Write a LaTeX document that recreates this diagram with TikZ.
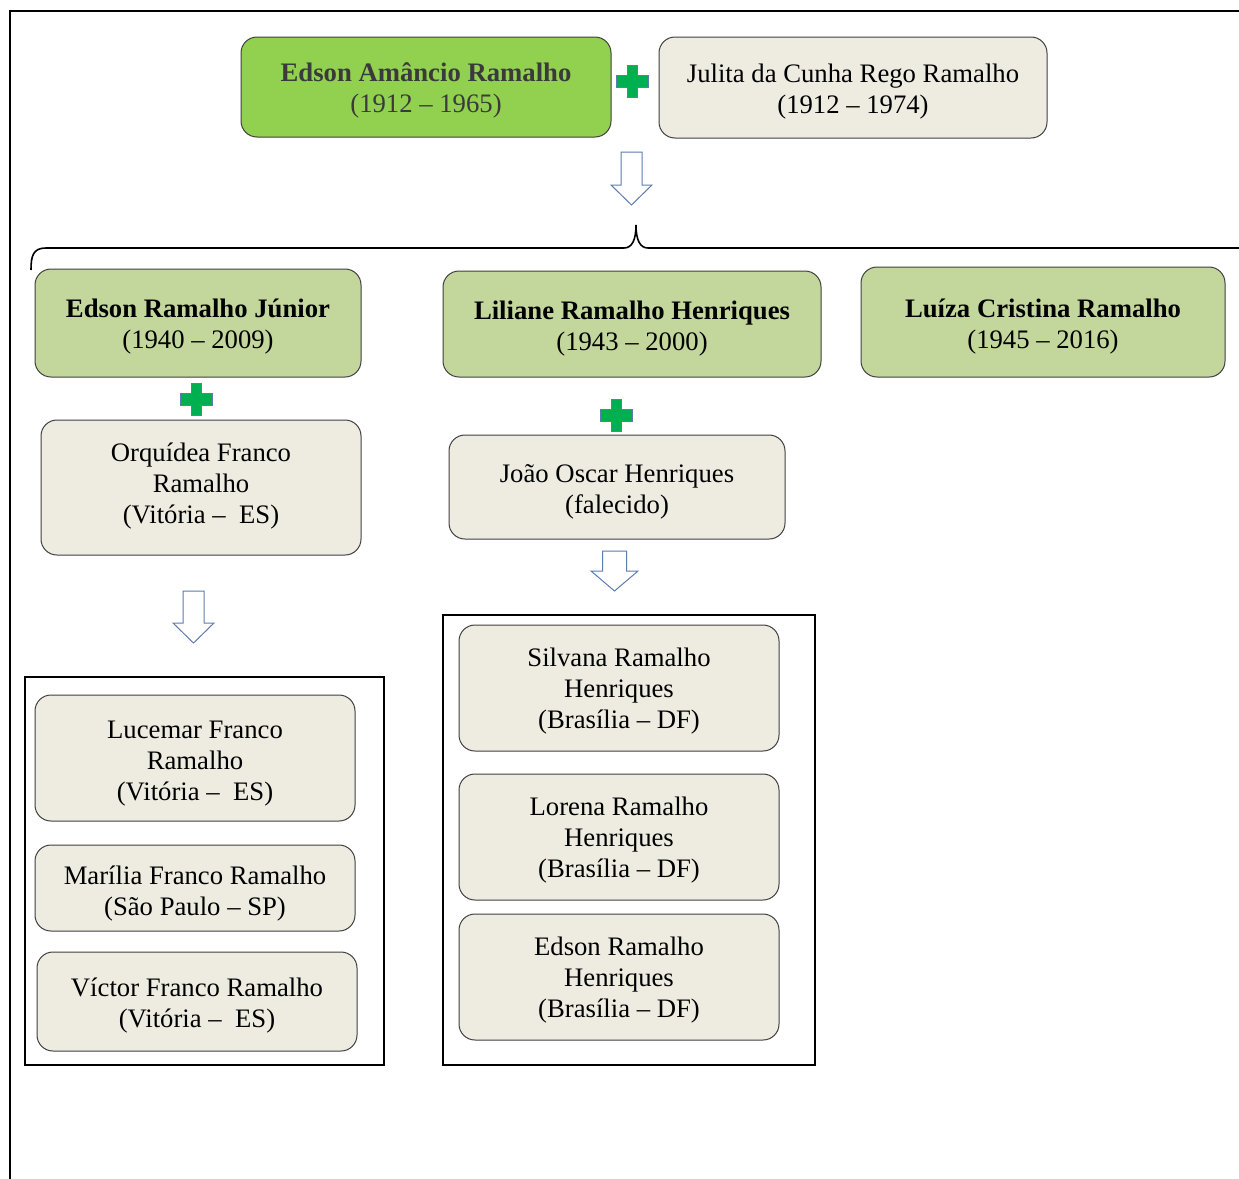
\documentclass[tikz,border=0pt]{standalone}
\usepackage{fontspec}
\setmainfont{Liberation Serif}
\definecolor{brightgreen}{HTML}{92D050}
\definecolor{olivebox}{HTML}{C3D69B}
\definecolor{paperbox}{HTML}{EEECE1}
\definecolor{plusgreen}{HTML}{00B050}
\definecolor{arrowblue}{HTML}{5B7DB1}
\definecolor{boxline}{HTML}{3F3F3F}
\definecolor{toptext}{HTML}{3A3A3A}
\tikzset{
  box/.style={draw=boxline, line width=1pt, rounded corners=16pt, align=center,
    inner sep=0pt, font=\fontsize{26.7}{31}\selectfont},
  greenbox/.style={box, fill=olivebox},
  paper/.style={box, fill=paperbox},
  group/.style={draw=black, line width=2pt, inner sep=0pt},
  plusstyle/.style={fill=plusgreen, draw=arrowblue, line width=0.8pt},
  arrowstyle/.style={fill=white, draw=arrowblue, line width=1pt, line join=miter},
}
% box text, drawn #1 pt lower while keeping its natural extent
\newcommand\bt[2][4]{\raisebox{-#1pt}[\height][\depth]{\begin{tabular}{@{}c@{}}#2\end{tabular}}}
% #1 centre x, #2 centre y
\newcommand\plussign[2]{%
  \draw[plusstyle] ({#1-5},{#2-16}) -- ({#1+5},{#2-16}) -- ({#1+5},{#2-6})
    -- ({#1+16},{#2-6}) -- ({#1+16},{#2+6}) -- ({#1+5},{#2+6}) -- ({#1+5},{#2+16})
    -- ({#1-5},{#2+16}) -- ({#1-5},{#2+6}) -- ({#1-16},{#2+6}) -- ({#1-16},{#2-6})
    -- ({#1-5},{#2-6}) -- cycle;}
% #1 centre x, #2 top, #3 head start, #4 tip, #5 shaft half width, #6 head half width
\newcommand\blockarrow[6]{%
  \draw[arrowstyle] ({#1-#5},#2) -- ({#1+#5},#2) -- ({#1+#5},#3) -- ({#1+#6},#3)
    -- (#1,#4) -- ({#1-#6},#3) -- ({#1-#5},#3) -- cycle;}
\begin{document}
\begin{tikzpicture}[x=1pt,y=-1pt]
\useasboundingbox (0,0) rectangle (1239,1178);
% outer frame
\draw[line width=2pt] (10,1200) -- (10,11) -- (1260,11);

% parents
\node[box, fill=brightgreen, text=toptext, minimum width=370pt, minimum height=100pt]
  (edson) at (426,87) {\bt{\textbf{Edson Amâncio Ramalho}\\(1912 – 1965)}};
\node[paper, minimum width=388pt, minimum height=101pt]
  (julita) at (853,87.5) {\bt{Julita da Cunha Rego Ramalho\\(1912 – 1974)}};
\plussign{632}{81}
\blockarrow{631.5}{152}{185}{205}{10.5}{20.5}

% brace
\draw[line width=1.6pt] (31,270) .. controls (31,256) and (33,248) .. (46,248)
  -- (624,248) .. controls (632,248) and (636,240) .. (636,225)
  .. controls (636,240) and (640,248) .. (648,248) -- (1260,248);

% children
\node[greenbox, minimum width=326pt, minimum height=108pt]
  (junior) at (198,323) {\bt{\textbf{Edson Ramalho Júnior}\\(1940 – 2009)}};
\node[greenbox, minimum width=378pt, minimum height=106pt]
  (liliane) at (632,324) {\bt[4.5]{\textbf{Liliane Ramalho Henriques}\\(1943 – 2000)}};
\node[greenbox, minimum width=364pt, minimum height=110pt]
  (luiza) at (1043,322) {\bt[5]{\textbf{Luíza Cristina Ramalho}\\(1945 – 2016)}};

% spouses
\plussign{196}{399}
\node[paper, minimum width=320pt, minimum height=135pt]
  (orquidea) at (201,487.5) {\bt[-1]{Orquídea Franco\\Ramalho\\(Vitória –~ ES)}};
\plussign{616}{415}
\node[paper, minimum width=336pt, minimum height=104pt]
  (joao) at (617,487) {\bt[5]{João Oscar Henriques\\(falecido)}};

\blockarrow{193.5}{591}{623}{643}{10.5}{20.5}
\blockarrow{614.5}{551}{571}{591}{12}{23.5}

% grandchildren groups
\node[group, minimum width=359pt, minimum height=388pt] (leftgroup) at (204.5,871) {};
\node[group, minimum width=372pt, minimum height=450pt] (rightgroup) at (629,840) {};

\node[paper, minimum width=320pt, minimum height=126pt]
  (lucemar) at (195,758) {\bt[5]{Lucemar Franco\\Ramalho\\(Vitória –~ ES)}};
\node[paper, minimum width=320pt, minimum height=86pt]
  (marilia) at (195,888) {\bt[6]{Marília Franco Ramalho\\(São Paulo – SP)}};
\node[paper, minimum width=320pt, minimum height=99pt]
  (victor) at (197,1001.5) {\bt[4.5]{Víctor Franco Ramalho\\(Vitória –~ ES)}};

\node[paper, minimum width=320pt, minimum height=126pt]
  (silvana) at (619,688) {\bt[3.5]{Silvana Ramalho\\Henriques\\(Brasília – DF)}};
\node[paper, minimum width=320pt, minimum height=126pt]
  (lorena) at (619,837) {\bt[3.5]{Lorena Ramalho\\Henriques\\(Brasília – DF)}};
\node[paper, minimum width=320pt, minimum height=126pt]
  (henriques) at (619,977) {\bt[3.5]{Edson Ramalho\\Henriques\\(Brasília – DF)}};
\end{tikzpicture}
\end{document}
